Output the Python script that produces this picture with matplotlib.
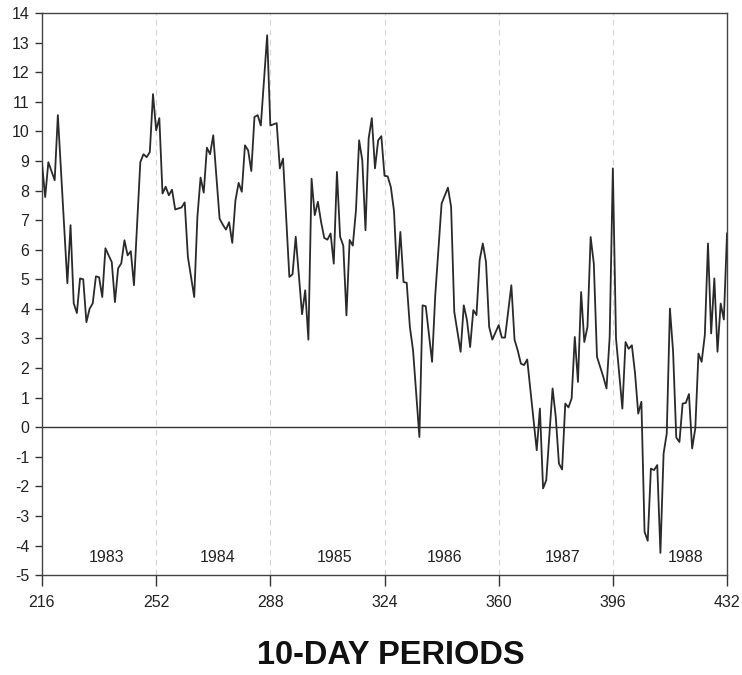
import numpy as np
import matplotlib
matplotlib.use("Agg")
from matplotlib import pyplot as plt

# 10-day period index and value
periods = [216, 217, 218, 220, 221, 224, 225, 226, 227, 228, 229, 230, 231, 232, 233, 234, 235, 236,
           238, 239, 240, 241, 242, 243, 244, 245, 247, 248, 249, 250, 251, 252, 253, 254, 255, 256,
           257, 258, 260, 261, 262, 264, 265, 266, 267, 268, 269, 270, 272, 273, 274, 275, 276, 277,
           278, 279, 280, 281, 282, 283, 284, 285, 287, 288, 290, 291, 292, 294, 295, 296, 298, 299,
           300, 301, 302, 303, 304, 305, 306, 307, 308, 309, 310, 311, 312, 313, 314, 315, 316, 317,
           318, 319, 320, 321, 322, 323, 324, 325, 326, 327, 328, 329, 330, 331, 332, 333, 335, 336,
           337, 339, 340, 342, 344, 345, 346, 348, 349, 350, 351, 352, 353, 354, 355, 356, 357, 358,
           360, 361, 362, 364, 365, 366, 367, 368, 369, 372, 373, 374, 375, 377, 378, 379, 380, 381,
           382, 383, 384, 385, 386, 387, 388, 389, 390, 391, 393, 394, 395, 396, 397, 399, 400, 401,
           402, 403, 404, 405, 406, 407, 408, 409, 410, 411, 412, 413, 414, 415, 416, 417, 418, 419,
           420, 421, 422, 423, 424, 425, 426, 427, 428, 429, 430, 431, 432]
values = [8.92, 7.78, 8.96, 8.35, 10.55, 4.87, 6.83, 4.19, 3.86, 5.03, 5.0, 3.55, 4.0, 4.19, 5.1, 5.07, 4.4, 6.05,
          5.58, 4.23, 5.37, 5.54, 6.32, 5.81, 5.95, 4.8, 8.96, 9.23, 9.13, 9.3, 11.26, 10.04, 10.45, 7.9, 8.13, 7.84,
          8.03, 7.36, 7.43, 7.6, 5.76, 4.4, 7.11, 8.44, 7.93, 9.45, 9.23, 9.87, 7.05, 6.85, 6.68, 6.93, 6.23, 7.67,
          8.26, 7.96, 9.53, 9.36, 8.66, 10.49, 10.55, 10.2, 13.25, 10.2, 10.28, 8.75, 9.08, 5.08, 5.17, 6.44, 3.82, 4.63,
          2.96, 8.4, 7.17, 7.62, 6.94, 6.4, 6.34, 6.55, 5.53, 8.63, 6.44, 6.14, 3.78, 6.33, 6.14, 7.33, 9.7, 9.02,
          6.66, 9.76, 10.45, 8.75, 9.7, 9.84, 8.5, 8.48, 8.12, 7.3, 5.03, 6.6, 4.91, 4.88, 3.39, 2.6, -0.33, 4.12,
          4.09, 2.21, 4.46, 7.56, 8.1, 7.45, 3.9, 2.55, 4.12, 3.62, 2.71, 3.96, 3.79, 5.65, 6.21, 5.59, 3.39, 2.96,
          3.45, 3.03, 3.03, 4.8, 2.96, 2.6, 2.15, 2.1, 2.29, -0.78, 0.63, -2.07, -1.79, 1.31, 0.35, -1.23, -1.43, 0.8,
          0.67, 0.97, 3.05, 1.53, 4.57, 2.88, 3.39, 6.43, 5.53, 2.38, 1.7, 1.31, 3.05, 8.75, 3.0, 0.63, 2.88, 2.65,
          2.77, 1.82, 0.46, 0.86, -3.54, -3.84, -1.4, -1.45, -1.28, -4.25, -0.89, -0.21, 4.01, 2.55, -0.35, -0.5, 0.8, 0.82,
          1.12, -0.72, -0.04, 2.49, 2.21, 3.11, 6.21, 3.17, 5.03, 2.55, 4.18, 3.64, 6.55]

year_bounds = [252, 288, 324, 360, 396]
years = ['1983', '1984', '1985', '1986', '1987', '1988']
year_x = [236.5, 271.5, 308.4, 343, 380, 418.8]
year_y = -4.4

x_ticks = [216, 252, 288, 324, 360, 396, 432]
y_ticks = list(range(-5, 15))

plt.rcParams['axes.unicode_minus'] = False
plt.rcParams['font.family'] = ['Liberation Sans', 'DejaVu Sans']

fig = plt.figure(figsize=(7.42, 6.75), dpi=100)
ax = fig.add_axes([0.0566, 0.148, 0.9232, 0.8326])

for xb in year_bounds:
    ax.axvline(xb, color='#d4d4d4', lw=0.8, ls=(0, (5, 4)), zorder=1)
ax.axhline(0, color='#333333', lw=1.0, zorder=2)
ax.plot(periods, values, color='#2a2a2a', lw=1.3, zorder=3)

for x, y in zip(year_x, years):
    ax.text(x, year_y, y, ha='center', va='center', fontsize=11.5, color='#222222')

ax.set_xlim(216, 432)
ax.set_ylim(-5, 14)
ax.set_xticks(x_ticks)
ax.set_yticks(y_ticks)
ax.tick_params(axis='x', direction='out', length=8, width=1, labelsize=11.5, pad=6, colors='#333333', labelcolor='#222222')
ax.tick_params(axis='y', direction='out', length=5, width=1, labelsize=11.5, pad=4, colors='#333333', labelcolor='#222222')
for s in ax.spines.values():
    s.set_color('#444444')
    s.set_linewidth(1.0)

fig.text(0.527, 1 - 655 / 675, '10-DAY PERIODS', ha='center', va='center',
         fontsize=23.5, fontweight='bold', color='#111111')

fig.savefig('out.png', dpi=100)
